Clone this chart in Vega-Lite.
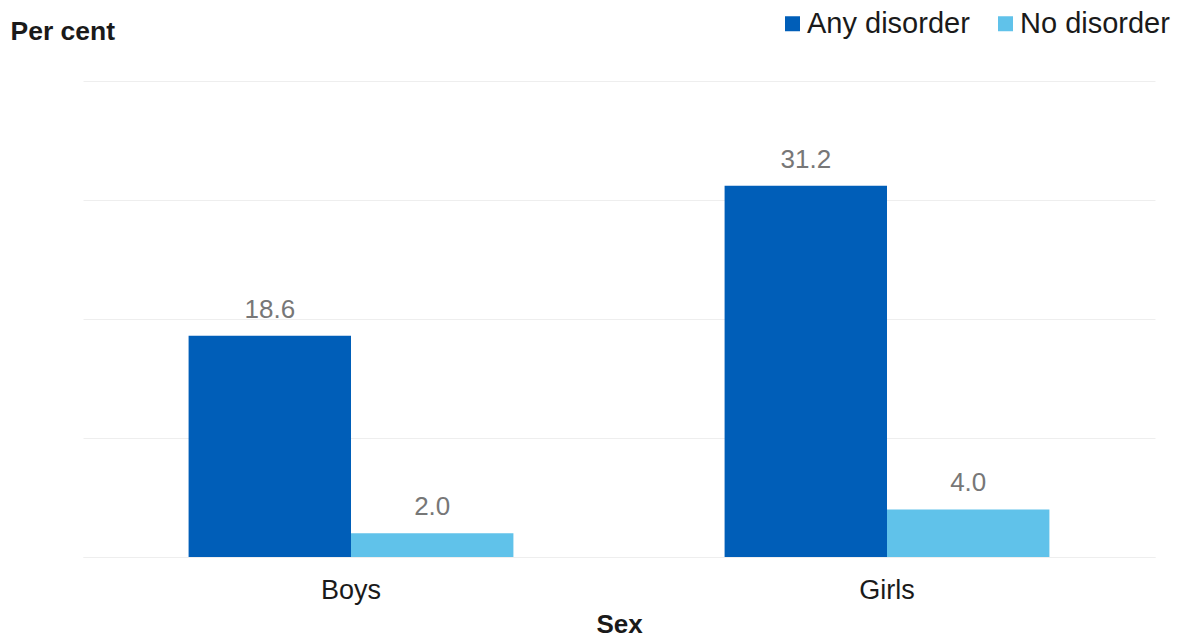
{
  "$schema": "https://vega.github.io/schema/vega-lite/v6.json",
  "autosize": {"type": "none"},
  "width": 1072,
  "height": 476,
  "padding": {"left": 83, "top": 81, "right": 23, "bottom": 80},
  "background": "white",
  "config": {
    "view": {"stroke": null},
    "font": "Liberation Sans"
  },
  "data": {
    "values": [
      {"sex": "Boys", "group": "Any disorder", "value": 18.6},
      {"sex": "Boys", "group": "No disorder", "value": 2.0},
      {"sex": "Girls", "group": "Any disorder", "value": 31.2},
      {"sex": "Girls", "group": "No disorder", "value": 4.0}
    ]
  },
  "encoding": {
    "x": {
      "field": "sex",
      "type": "nominal",
      "scale": {"paddingInner": 0.394, "paddingOuter": 0.197},
      "axis": {
        "title": "Sex",
        "labelAngle": 0,
        "labelFont": "Liberation Sans",
        "labelFontSize": 27,
        "labelColor": "#1a1a1a",
        "labelBaseline": "alphabetic",
        "labelPadding": 41,
        "ticks": false,
        "tickSize": 0,
        "domain": true,
        "domainColor": "#eeeeee",
        "titleFont": "Liberation Sans",
        "titleFontSize": 26,
        "titleFontWeight": "bold",
        "titleColor": "#1a1a1a",
        "titleBaseline": "alphabetic",
        "titleY": 75
      }
    },
    "xOffset": {"field": "group", "type": "nominal", "scale": {"paddingInner": 0, "paddingOuter": 0}},
    "y": {
      "field": "value",
      "type": "quantitative",
      "scale": {"domain": [0, 40], "nice": false},
      "axis": {
        "title": "Per cent",
        "values": [0, 10, 20, 30, 40],
        "labels": false,
        "ticks": false,
        "domain": false,
        "grid": true,
        "gridColor": "#eeeeee",
        "gridWidth": 1,
        "titleAngle": 0,
        "titleAlign": "left",
        "titleBaseline": "alphabetic",
        "titleX": -73,
        "titleY": -42,
        "titleFont": "Liberation Sans",
        "titleFontSize": 26.5,
        "titleFontWeight": "bold",
        "titleColor": "#1a1a1a"
      }
    }
  },
  "layer": [
    {
      "mark": {"type": "bar"},
      "encoding": {
        "color": {
          "field": "group",
          "type": "nominal",
          "scale": {"domain": ["Any disorder", "No disorder"], "range": ["#005EB8", "#60C2EA"]},
          "legend": {
            "title": null,
            "orient": "none",
            "direction": "horizontal",
            "legendX": 695,
            "legendY": -72,
            "symbolType": "square",
            "symbolSize": 225,
            "symbolStrokeWidth": 0,
            "labelFont": "Liberation Sans",
            "labelFontSize": 29,
            "labelColor": "#1a1a1a",
            "labelOffset": 0,
            "labelLimit": 400,
            "columnPadding": 21
          }
        }
      }
    },
    {
      "mark": {"type": "text", "baseline": "alphabetic", "dy": -18, "font": "Liberation Sans", "fontSize": 26, "color": "#777777"},
      "encoding": {
        "text": {"field": "value", "type": "quantitative", "format": ".1f"}
      }
    }
  ]
}
